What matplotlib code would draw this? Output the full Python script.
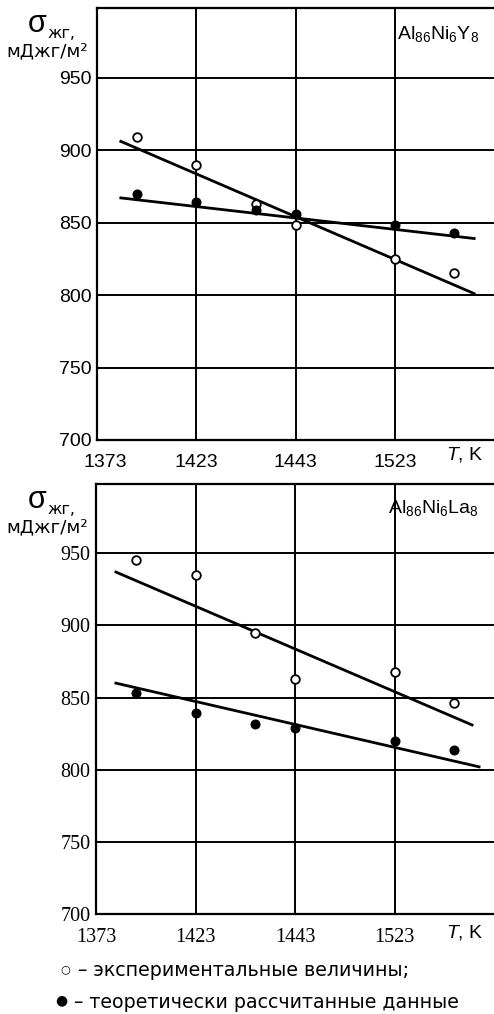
import numpy as np
import matplotlib
matplotlib.use("Agg")
import matplotlib.pyplot as plt
from matplotlib.transforms import ScaledTranslation

plt.rcParams['font.family'] = ['Liberation Sans', 'DejaVu Sans']
plt.rcParams['mathtext.fontset'] = 'custom'
plt.rcParams['mathtext.rm'] = 'Liberation Sans'
plt.rcParams['mathtext.it'] = 'Liberation Sans:italic'

# categories on the x axis (grid positions 0..3)
t_labels = ['1373', '1423', '1443', '1523']
# positions of the measured points between the grid lines
pt_x = [0.4, 1.0, 1.6, 2.0, 3.0, 3.6]

# Al86Ni6Y8
y8_exp = [909, 890, 863, 848, 825, 815]
y8_theor = [870, 864, 859, 856, 848, 843]
y8_exp_line_x = [0.24, 3.8]
y8_exp_line = [906, 801]
y8_theor_line_x = [0.24, 3.8]
y8_theor_line = [867, 839]

# Al86Ni6La8
la_exp = [945, 935, 895, 863, 868, 846]
la_theor = [853, 839, 832, 829, 820, 814]
la_exp_line_x = [0.2, 3.78]
la_exp_line = [937, 831]
la_theor_line_x = [0.2, 3.85]
la_theor_line = [860, 802]

y_ticks = [700, 750, 800, 850, 900, 950]

W, H = 494, 1014
fig = plt.figure(figsize=(W / 100, H / 100), dpi=100)


def px(x, y):
    return x / W, 1 - y / H


def panel(rect, exp, theor, exp_lx, exp_ly, th_lx, th_ly, serif, name,
          ylab_y, name_y, tk_y, first_dx):
    ax = fig.add_axes(rect)
    ax.set_xlim(0, 4)
    ax.set_ylim(700, 998)
    ax.set_xticks(range(4))
    ax.set_yticks(y_ticks)
    tick_font = 'Liberation Serif' if serif else 'Liberation Sans'
    fs = 14.5 if serif else 14
    ax.set_xticklabels(t_labels, fontsize=fs, family=tick_font)
    ax.set_yticklabels([str(v) for v in y_ticks], fontsize=fs, family=tick_font)
    ax.tick_params(axis='x', length=0, pad=10)
    ax.tick_params(axis='y', direction='in', length=3.5, width=1.4, pad=4)
    ax.grid(True, color='black', lw=1.4)
    for s in ['left', 'bottom', 'top']:
        ax.spines[s].set_linewidth(1.6)
    ax.spines['right'].set_visible(False)
    # first label sits a bit off the spine
    lab = ax.get_xticklabels()[0]
    lab.set_transform(lab.get_transform() + ScaledTranslation(first_dx / 100, 0, fig.dpi_scale_trans))

    ax.plot(exp_lx, exp_ly, color='black', lw=2.0, zorder=3)
    ax.plot(th_lx, th_ly, color='black', lw=2.0, zorder=3)
    ax.plot(pt_x, exp, 'o', ms=6.2, mfc='white', mec='black', mew=1.3, zorder=4, clip_on=False)
    ax.plot(pt_x, theor, 'o', ms=6.2, mfc='black', mec='black', zorder=4, clip_on=False)

    fig.text(*px(479, name_y), name, fontsize=14, ha='right', va='center')
    fig.text(*px(465, tk_y), '$T$, K', fontsize=14, ha='center', va='center')

    # y axis label
    fig.text(*px(37, ylab_y), 'σ', fontsize=22, ha='center', va='center')
    fig.text(*px(47, ylab_y + 10), 'жг,', fontsize=11.5, family='DejaVu Sans', ha='left', va='center')
    fig.text(*px(47, ylab_y + 27), 'мДжг/м²', fontsize=13.2, family='DejaVu Sans', ha='center', va='center')
    return ax


panel([97 / W, 1 - 440 / H, 1 - 97 / W, (440 - 8) / H],
      y8_exp, y8_theor, y8_exp_line_x, y8_exp_line, y8_theor_line_x, y8_theor_line,
      False, 'Al$_{86}$Ni$_6$Y$_8$', 24, 34, 455, 8)
panel([96 / W, 1 - 914 / H, 1 - 96 / W, (914 - 484) / H],
      la_exp, la_theor, la_exp_line_x, la_exp_line, la_theor_line_x, la_theor_line,
      True, 'Al$_{86}$Ni$_6$La$_8$', 500, 508, 933, 0)

# legend below the charts
fig.text(*px(65, 969), '○', fontsize=8, family='DejaVu Sans', ha='center', va='center')
fig.text(*px(78, 971), '– экспериментальные величины;', fontsize=13.7, family='DejaVu Sans', ha='left', va='center')
fig.text(*px(61, 1000), '●', fontsize=10, family='DejaVu Sans', ha='center', va='center')
fig.text(*px(74, 1002), '– теоретически рассчитанные данные', fontsize=13.7, family='DejaVu Sans', ha='left', va='center')

fig.savefig('out.png', dpi=100)
